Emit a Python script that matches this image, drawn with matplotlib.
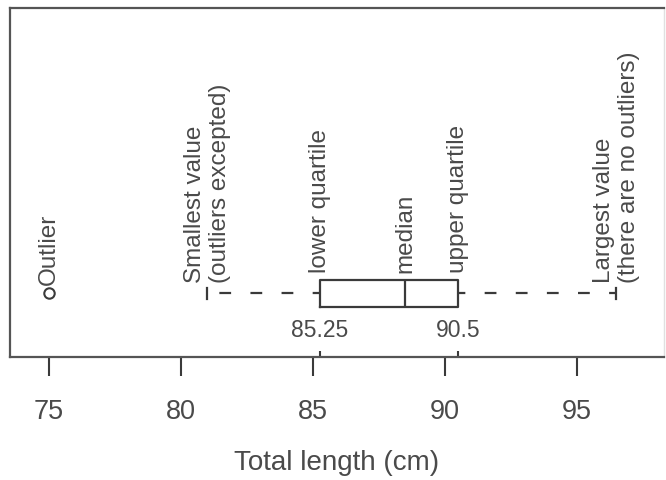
import matplotlib
matplotlib.use("Agg")
import matplotlib.pyplot as plt

# data
q1 = 85.25
median = 88.5
q3 = 90.5
whis_lo = 81.0
whis_hi = 96.5
outliers = [75.0]
xticks = [75, 80, 85, 90, 95]
xlabel = "Total length (cm)"
q_labels = ["85.25", "90.5"]

plt.rcParams['font.family'] = ['Liberation Sans', 'DejaVu Sans']
txt = '#4a4a4a'
lc = '#3a3a3a'

fig = plt.figure(figsize=(6.66, 4.8), dpi=100)
ax = fig.add_axes([10/666, 123/480, 654/666, 349/480])

ypos = 0.182
stats = [dict(med=median, q1=q1, q3=q3, whislo=whis_lo, whishi=whis_hi, fliers=outliers)]
ax.bxp(stats, positions=[ypos], widths=0.077, orientation='horizontal',
       boxprops=dict(color=lc, linewidth=1.6),
       medianprops=dict(color=lc, linewidth=1.6),
       whiskerprops=dict(color=lc, linewidth=1.6, linestyle=(2, (5.3, 8.7))),
       capprops=dict(color=lc, linewidth=1.6),
       flierprops=dict(marker='o', markerfacecolor='none', markeredgecolor=lc,
                       markersize=7.5, markeredgewidth=1.5),
       capwidths=0.034, manage_ticks=False)

ax.set_xlim(73.52, 98.30)
ax.set_ylim(0, 1)

ax.set_xticks(xticks)
ax.set_xticklabels([str(t) for t in xticks])
ax.set_xticks([q1, q3], minor=True)
ax.tick_params(axis='x', which='major', direction='out', length=13.5, width=1.5,
               color=lc, labelsize=19.5, labelcolor=txt, pad=17)
ax.tick_params(axis='x', which='minor', direction='in', length=4, width=1.5,
               color=lc, labelbottom=False)
ax.set_yticks([])
ax.set_xlabel(xlabel, fontsize=20, color=txt, labelpad=18)

for s in ['left', 'top', 'bottom']:
    ax.spines[s].set_color('#555555')
    ax.spines[s].set_linewidth(1.6)
ax.spines['right'].set_color('#e0e0e0')
ax.spines['right'].set_linewidth(1.0)

fs = 17.5
kw = dict(rotation=90, ha='center', va='bottom', multialignment='left',
          fontsize=fs, color=txt, rotation_mode='default')
ax.text(outliers[0], 0.206, "Outlier", **kw)
ax.text(whis_lo, 0.212, "Smallest value\n(outliers excepted)", **kw)
ax.text(q1, 0.241, "lower quartile", **kw)
ax.text(median, 0.241, "median", **kw)
ax.text(q3, 0.241, "upper quartile", **kw)
ax.text(whis_hi, 0.212, "Largest value\n(there are no outliers)", **kw)

ax.text(q1, 0.0745, q_labels[0], ha='center', va='center', fontsize=16.5, color=txt)
ax.text(q3, 0.0745, q_labels[1], ha='center', va='center', fontsize=16.5, color=txt)

fig.savefig("out.png", dpi=100)
